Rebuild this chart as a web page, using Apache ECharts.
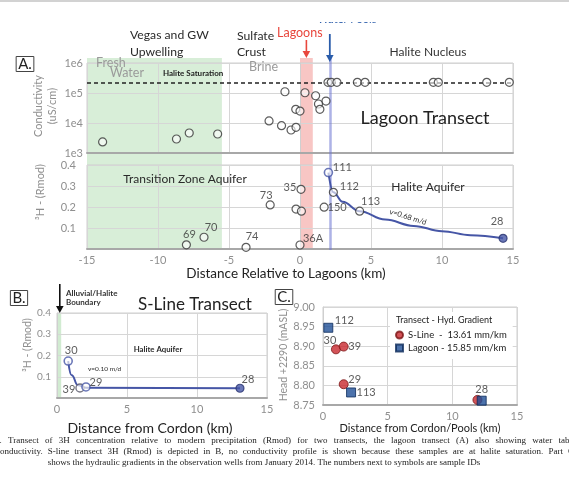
<!DOCTYPE html>
<html><head><meta charset="utf-8">
<script src="https://cdn.jsdelivr.net/npm/echarts@6/dist/echarts.min.js"></script>
<style>html,body{margin:0;padding:0;background:#fff;overflow:hidden}#c{width:569px;height:490px}</style>
</head><body><div id="c"></div>
<script>
// ---------------- DATA ----------------
// Panel A (top): conductivity along lagoon transect
const condDist  = [-13.9,-8.7,-7.8,-5.8,-2.18,-1.3,-0.63,-0.28,-1.06,0.35,1.1,1.83,1.3,1.4,-0.3,0.0,1.97,2.2,2.6,4.04,4.58,9.39,9.74,13.15,14.74];
const condValue = [2340,2930,4640,4300,11700,8130,5850,7200,110000,102000,81000,54000,43000,28600,28600,25000,227000,227000,227000,227000,227000,227000,227000,227000,227000];
const haliteSaturation = 227000;
// Panel A (bottom): 3H lagoon transect
const lagoonIds  = ['69','70','74','73','35','','','36A','150','111','112','113','28'];
const lagoonDist = [-8.0,-6.76,-3.8,-2.1,0.07,-0.28,0.1,0.0,1.7,2.0,2.35,4.2,14.3];
const lagoonH3   = [0.02,0.056,0.008,0.21,0.284,0.19,0.18,0.019,0.199,0.364,0.27,0.18,0.051];
const lagoonFitDist = [2.0,2.35,3.0,4.2,6.0,8.0,10.0,12.0,14.3];
const lagoonFitH3   = [0.364,0.27,0.225,0.18,0.14,0.11,0.085,0.066,0.051];
// Zones (km)
const freshZone = [-15,-5.5];
const lagoonBand = [0,0.9];
const waterPoolsDist = 2.1;
// Panel B: S-line transect
const sLineIds  = ['30','39','29','28'];
const sLineDist = [0.8,1.64,2.07,13.07];
const sLineH3   = [0.174,0.047,0.052,0.046];
const sLineFitDist = [0.8,1.05,1.5,2.1,13.07];
const sLineFitH3   = [0.174,0.107,0.06,0.048,0.046];
const alluvialZone = [0,0.3];
// Panel C: hydraulic heads
const headSLineIds   = ['30','39','29',''];
const headSLineDist  = [1.0,1.6,1.6,11.94];
const headSLineValue = [8.892,8.899,8.803,8.763];
const headLagoonIds   = ['112','113','28'];
const headLagoonDist  = [0.41,2.17,12.27];
const headLagoonValue = [8.947,8.782,8.761];
const gradientNames = ['S-Line  -  13.61 mm/km','Lagoon - 15.85 mm/km'];

// ---------------- STYLE ----------------
const FONT = 'Lato, "Open Sans", sans-serif';
const GRAY = '#8f8f8f';
const DARK = '#2a2a2a';
const CURVE = '#4656a6';
const splitLine = {show:true, lineStyle:{color:'#d6d6d6', width:1}};
const lblA = {'69':[3,-10],'70':[7,-10],'74':[6,-11],'73':[-4,-9],'35':[-11,-2],'36A':[13,-7],'150':[13,0],'111':[14,-5],'112':[16,-6],'113':[11,-10],'28':[-6,-17]};
const lblB = {'30':[3,-11],'39':[-11,1],'29':[10,-4],'28':[8,-9]};
const lblCs = {'30':[-6,-9],'39':[11,0],'29':[11,-5]};
const lblCl = {'112':[16,-7],'113':[15,0],'28':[0,-11]};
const ring = {color:'rgba(255,255,255,0.75)', borderColor:'#333', borderWidth:1.2};
const blueRing = {color:'rgba(255,255,255,0.8)', borderColor:CURVE, borderWidth:1.6};
const blueFill = {color:CURVE, borderColor:'#2a3570', borderWidth:1.2};
const styleA = {'111':blueRing,'28':blueFill};
const styleB = {'30':blueRing,'29':blueRing,'28':blueFill,'39':{color:'rgba(255,255,255,0.8)',borderColor:'#556',borderWidth:1.4}};

function pts(xs, ys, ids, lbl, sty){
  return xs.map((x,i)=>{
    const id = ids ? ids[i] : '';
    const o = {value:[x, ys[i]]};
    if (sty && sty[id]) o.itemStyle = sty[id];
    if (id && lbl && lbl[id]) {
      o.label = {show:true, formatter:id, position:'inside', offset:lbl[id], color:'#333', fontSize:11, fontFamily:FONT};
    }
    return o;
  });
}
const pair = (xs, ys) => xs.map((x,i)=>[x, ys[i]]);

const xBase = (gi, min, max, showLabel) => ({
  gridIndex:gi, type:'value', min:min, max:max, interval:5,
  axisLabel:{show:showLabel, color:GRAY, fontFamily:FONT, fontSize:11, margin:6},
  axisTick:{show:false},
  axisLine:{show:true, onZero:false, lineStyle:{color:'#a8a8a8', width:2}},
  splitLine: splitLine
});
const yLbl = (fmt, margin, size) => ({color:GRAY, fontFamily:FONT, fontSize:size||11, margin:margin, formatter:fmt});
const h3fmt = v => Math.abs(v) < 1e-9 ? '' : v.toFixed(1);

const option = {
  backgroundColor:'#fff',
  animation:false,
  textStyle:{fontFamily:FONT},
  grid:[
    {left:87, top:63, width:426, height:90, show:true, borderColor:'#cfcfcf', borderWidth:1},
    {left:87, top:165, width:426, height:84, show:true, borderColor:'#cfcfcf', borderWidth:1},
    {left:87, top:58, width:426, height:192},
    {left:57, top:313, width:210, height:85, show:true, borderColor:'#cfcfcf', borderWidth:1},
    {left:323, top:307, width:194, height:98, show:true, borderColor:'#cfcfcf', borderWidth:1}
  ],
  xAxis:[
    xBase(0,-15,15,false),
    xBase(1,-15,15,true),
    {gridIndex:2, type:'value', min:-15, max:15, show:false},
    xBase(3,0,15,true),
    xBase(4,0,15,true)
  ],
  yAxis:[
    {gridIndex:0, type:'log', logBase:10, min:1e3, max:1e6, axisTick:{show:false},
     axisLine:{show:true, lineStyle:{color:'#cfcfcf'}}, splitLine:splitLine,
     axisLabel:yLbl(v => '1e' + Math.round(Math.log10(v)), 4)},
    {gridIndex:1, type:'value', min:0, max:0.4, interval:0.1, axisTick:{show:false},
     axisLine:{show:true, lineStyle:{color:'#cfcfcf'}}, splitLine:splitLine, axisLabel:yLbl(h3fmt, 11)},
    {gridIndex:2, type:'value', min:0, max:1, show:false},
    {gridIndex:3, type:'value', min:0, max:0.4, interval:0.1, axisTick:{show:false},
     axisLine:{show:true, lineStyle:{color:'#cfcfcf'}}, splitLine:splitLine, axisLabel:yLbl(h3fmt, 6, 10)},
    {gridIndex:4, type:'value', min:8.75, max:9.0, interval:0.05, axisTick:{show:false},
     axisLine:{show:true, lineStyle:{color:'#cfcfcf'}}, splitLine:splitLine, axisLabel:yLbl(v => v.toFixed(2), 8)}
  ],
  legend:{
    left:390, top:312, orient:'vertical', itemGap:3, itemWidth:7, itemHeight:7,
    padding:[18,6,6,5], backgroundColor:'#fff', selectedMode:false,
    textStyle:{fontSize:9.5, color:'#222', fontFamily:FONT},
    data:[{name:gradientNames[0], icon:'circle'}, {name:gradientNames[1], icon:'rect'}]
  },
  series:[
    { // zone shading behind panel A
      type:'scatter', xAxisIndex:2, yAxisIndex:2, data:[], silent:true,
      markArea:{silent:true, z:-1, data:[
        [{xAxis:freshZone[0], itemStyle:{color:'rgba(140,205,140,0.34)'}}, {xAxis:freshZone[1]}],
        [{xAxis:lagoonBand[0], itemStyle:{color:'rgba(238,120,115,0.42)'}}, {xAxis:lagoonBand[1]}]
      ]},
      markLine:{silent:true, z:1, symbol:'none', label:{show:false},
        lineStyle:{color:'rgba(105,115,210,0.55)', width:2.5, type:'solid'},
        data:[{xAxis:waterPoolsDist}]}
    },
    { // conductivity
      type:'scatter', xAxisIndex:0, yAxisIndex:0, symbol:'circle', symbolSize:8, z:3,
      itemStyle:ring, data:pair(condDist, condValue),
      markLine:{silent:true, z:1, symbol:'none', label:{show:false},
        lineStyle:{color:'#222', type:[4,3], width:1.5},
        data:[{yAxis:haliteSaturation}]}
    },
    { // lagoon 3H fit
      type:'line', xAxisIndex:1, yAxisIndex:1, data:pair(lagoonFitDist, lagoonFitH3),
      smooth:0.4, smoothMonotone:'x', showSymbol:false, z:2,
      lineStyle:{color:CURVE, width:2}
    },
    { // lagoon 3H points
      type:'scatter', xAxisIndex:1, yAxisIndex:1, symbol:'circle', symbolSize:8, z:3,
      itemStyle:ring, data:pts(lagoonDist, lagoonH3, lagoonIds, lblA, styleA)
    },
    { // S-line fit
      type:'line', xAxisIndex:3, yAxisIndex:3, data:pair(sLineFitDist, sLineFitH3),
      smooth:0.5, smoothMonotone:'x', showSymbol:false, z:2,
      lineStyle:{color:CURVE, width:2},
      markArea:{silent:true, z:-1, itemStyle:{color:'rgba(140,205,140,0.4)'},
        data:[[{xAxis:alluvialZone[0]},{xAxis:alluvialZone[1]}]]}
    },
    { // S-line 3H points
      type:'scatter', xAxisIndex:3, yAxisIndex:3, symbol:'circle', symbolSize:8, z:3,
      itemStyle:ring, data:pts(sLineDist, sLineH3, sLineIds, lblB, styleB)
    },
    { // heads S-line
      name:gradientNames[0], type:'scatter', xAxisIndex:4, yAxisIndex:4, symbol:'circle', symbolSize:9, z:3,
      itemStyle:{color:'#c8282e', borderColor:'#7a1515', borderWidth:1},
      data:pts(headSLineDist, headSLineValue, headSLineIds, lblCs, null)
    },
    { // heads lagoon
      name:gradientNames[1], type:'scatter', xAxisIndex:4, yAxisIndex:4, symbol:'rect', symbolSize:9, z:3,
      itemStyle:{color:'#1f4f96', borderColor:'#0d2a5a', borderWidth:1},
      data:pts(headLagoonDist, headLagoonValue, headLagoonIds, lblCl, null)
    }
  ]
};

const chart = echarts.init(document.getElementById('c'));
chart.setOption(option);

// ---------------- annotations ----------------
const T = (text, x, y, o) => ({type:'text', z:20, style:Object.assign({text:text, x:x, y:y, fill:DARK, fontFamily:FONT, fontSize:12, align:'left', verticalAlign:'middle'}, o||{})});
const TR = (text, x, y, o) => ({type:'text', z:20, x:x, y:y, rotation:Math.PI/2,
  style:Object.assign({text:text, x:0, y:0, fill:GRAY, fontFamily:FONT, fontSize:11, align:'center', verticalAlign:'middle', lineHeight:14}, o||{})});
const box = (text, x, y) => T(text, x, y, {fontSize:15, align:'center', padding:[0,2,0,2], borderColor:'#444', borderWidth:1, fill:'#222'});
function arrow(x, y1, y2, color, w){
  return {type:'group', z:20, children:[
    {type:'line', z:20, shape:{x1:x, y1:y1, x2:x, y2:y2-5}, style:{stroke:color, lineWidth:w}},
    {type:'polygon', z:20, shape:{points:[[x-3.8,y2-7],[x+3.8,y2-7],[x,y2]]}, style:{fill:color}}
  ]};
}
const xA = v => chart.convertToPixel({gridIndex:0}, [v, 1e6])[0];
const xB = v => chart.convertToPixel({gridIndex:3}, [v, 0.4])[0];

// caption (justified lines 1-2, centred last line)
const CAPF = '"Liberation Serif", "DejaVu Serif", serif';
const CAPS = 9;
const cap = {fontFamily:CAPF, fontSize:CAPS, fill:'#222', align:'left'};
const ctx = document.createElement('canvas').getContext('2d');
ctx.font = CAPS + 'px ' + CAPF;
function justify(text, x0, x1, y){
  const words = text.split(' ');
  const widths = words.map(w => ctx.measureText(w).width);
  const total = widths.reduce((a,b)=>a+b,0);
  const gap = (x1 - x0 - total) / (words.length - 1);
  let x = x0; const els = [];
  words.forEach((w,i)=>{ els.push(T(w, x, y, cap)); x += widths[i] + gap; });
  return els;
}

const graphics = [
  T('Water Pools', 347, 19, {fill:'#2a5caa', fontSize:11, align:'center'}),
  {type:'rect', z:21, shape:{x:0, y:0, width:569, height:22}, style:{fill:'#fff'}},
  {type:'rect', z:22, shape:{x:0, y:0, width:569, height:2}, style:{fill:'#d2d2d2'}},
  T('Vegas and GW', 130, 35, {fontSize:12.2}),
  T('Upwelling', 130, 52, {fontSize:12.2}),
  T('Sulfate', 237, 36, {fontSize:12.2}),
  T('Crust', 237, 52, {fontSize:12.2}),
  T('Lagoons', 277, 33, {fontSize:12.5, fill:'#e8473d'}),
  T('Halite Nucleus', 428, 52, {fontSize:12, align:'center', fill:'#333'}),
  arrow(xA((lagoonBand[0]+lagoonBand[1])/2), 40, 58, '#e8473d', 1.6),
  arrow(xA(waterPoolsDist), 34, 62, '#2a5caa', 1.8),
  T('Fresh', 96, 63, {fontSize:12.5, fill:'#9a9a9a'}),
  T('Water', 110, 73, {fontSize:12.5, fill:'#9a9a9a'}),
  T('Halite Saturation', 163, 73, {fontSize:8, fontWeight:'bold', fill:'#222'}),
  T('Brine', 249, 67, {fontSize:12.5, fill:'#9a9a9a'}),
  T('Lagoon Transect', 425, 118, {fontSize:18, align:'center', fill:'#222'}),
  box('A.', 25, 64),
  TR('Conductivity\n(uS/cm)', 45, 106),
  T('Transition Zone Aquifer', 185, 179, {fontSize:12, align:'center'}),
  T('Halite Aquifer', 428, 187, {fontSize:12, align:'center'}),
  {type:'text', z:20, x:408, y:217, rotation:-0.3, style:{text:'v=0.68 m/d', x:0, y:0, fill:DARK, fontFamily:FONT, fontSize:7.5, align:'center', verticalAlign:'middle'}},
  TR('³H - (Rmod)', 40, 192),
  T('Distance Relative to Lagoons (km)', 286, 274, {fontSize:13.5, align:'center', fill:'#222'}),
  box('B.', 19, 298),
  arrow(xB(0.2), 284, 313, '#111', 1.6),
  T('Alluvial/Halite', 66, 293, {fontSize:8, fontWeight:'bold', fill:'#333'}),
  T('Boundary', 66, 302, {fontSize:8, fontWeight:'bold', fill:'#333'}),
  T('S-Line Transect', 195, 305, {fontSize:17, align:'center', fill:'#222'}),
  T('Halite Aquifer', 158, 349, {fontSize:7.8, fontWeight:'bold', align:'center'}),
  T('v=0.10 m/d', 88, 369, {fontSize:6.5}),
  TR('³H - (Rmod)', 28, 345, {fontSize:10.5}),
  T('Distance from Cordon (km)', 150, 428, {fontSize:14, align:'center', fill:'#222'}),
  box('C.', 284, 297),
  TR('Head +2290 (mASL)', 284, 355, {fontSize:10.5}),
  T('Distance from Cordon/Pools (km)', 420, 428, {fontSize:11, align:'center', fill:'#222'}),
  T('Transect - Hyd. Gradient', 396, 320, {fontSize:9, fill:'#222'})
].concat(
  justify('6. Transect of 3H concentration relative to modern precipitation (Rmod) for two transects, the lagoon transect (A) also showing water table', -5, 576, 441),
  justify('conductivity. S-line transect 3H (Rmod) is depicted in B, no conductivity profile is shown because these samples are at halite saturation. Part C', -4, 574, 452),
  [T('shows the hydraulic gradients in the observation wells from January 2014. The numbers next to symbols are sample IDs', 264, 463, Object.assign({}, cap, {align:'center'}))]
);
chart.setOption({graphic:{elements:graphics}});
</script></body></html>
